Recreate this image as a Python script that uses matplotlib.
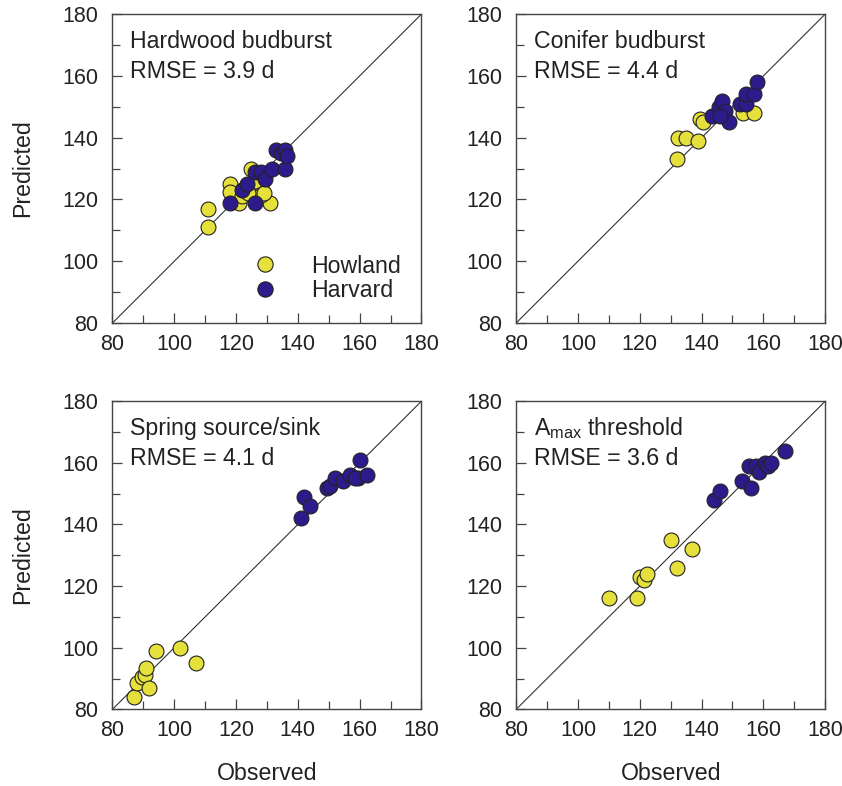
import matplotlib
matplotlib.use("Agg")
import matplotlib.pyplot as plt
from matplotlib.ticker import MultipleLocator
from matplotlib.lines import Line2D

plt.rcParams['font.family'] = ['Liberation Sans', 'DejaVu Sans']
plt.rcParams['mathtext.fontset'] = 'custom'
plt.rcParams['mathtext.rm'] = 'Liberation Sans'
plt.rcParams['mathtext.it'] = 'Liberation Sans:italic'

# Hardwood budburst
hw_how_obs = [111, 111, 118, 118, 125, 131, 121, 122, 127, 128, 128, 126, 124, 129]
hw_how_pred = [117, 111, 125, 122.5, 130, 119, 119, 121, 123, 124.5, 121.5, 126, 122, 122]
hw_har_obs = [118, 126, 122, 123.5, 126, 128, 129.5, 131.5, 136, 133, 134.5, 136, 136.5]
hw_har_pred = [119, 119, 123, 125, 129, 129, 126.5, 130, 130, 136, 135, 136, 134]

# Conifer budburst
cf_how_obs = [132, 132.5, 135, 139, 139.5, 140.5, 153.5, 157]
cf_how_pred = [133, 140, 140, 139, 146, 145, 148, 148]
cf_har_obs = [143.5, 145.5, 146.5, 147.5, 149, 146, 152.5, 154.5, 154.5, 157, 158]
cf_har_pred = [147, 150, 152, 148.5, 145, 147, 151, 151, 154, 154, 158]

# Spring source/sink
ss_how_obs = [87, 88, 89.5, 90.5, 91, 92, 94, 102, 107]
ss_how_pred = [84, 88.5, 90.5, 91, 93.5, 87, 99, 100, 95]
ss_har_obs = [141, 142, 144, 149.5, 150.5, 152, 154.5, 157, 159.5, 158.5, 160, 162.5]
ss_har_pred = [142, 149, 146, 152, 152.5, 155, 154, 156, 155, 155, 161, 156]

# Amax threshold
am_how_obs = [110, 119, 120, 121.5, 122.5, 130, 132, 137]
am_how_pred = [116, 116, 123, 122, 124, 135, 126, 132]
am_har_obs = [144, 146, 153, 156, 155.5, 157.5, 158.5, 160.5, 161.5, 162.5, 167]
am_har_pred = [148, 151, 154, 152, 159, 159, 157, 160, 159, 160, 164]

titles = ["Hardwood budburst", "Conifer budburst", "Spring source/sink",
          r"A$_{\mathrm{max}}$ threshold"]
rmse = ["3.9", "4.4", "4.1", "3.6"]

howland_color = '#e5e03c'
harvard_color = '#2d1b8c'

panels = [
    (hw_how_obs, hw_how_pred, hw_har_obs, hw_har_pred),
    (cf_how_obs, cf_how_pred, cf_har_obs, cf_har_pred),
    (ss_how_obs, ss_how_pred, ss_har_obs, ss_har_pred),
    (am_how_obs, am_how_pred, am_har_obs, am_har_pred),
]

fig = plt.figure(figsize=(8.42, 7.86), dpi=100)
positions = [
    [0.1335, 0.589, 0.367, 0.393],
    [0.613, 0.589, 0.367, 0.393],
    [0.1335, 0.0975, 0.367, 0.392],
    [0.613, 0.0975, 0.367, 0.392],
]

for i, (pos, data) in enumerate(zip(positions, panels)):
    ax = fig.add_axes(pos)
    ho, hp, vo, vp = data
    ax.plot([80, 180], [80, 180], color='#333333', lw=0.8, zorder=1)
    ax.scatter(ho, hp, s=115, c=howland_color, edgecolors='#222222',
               linewidths=0.8, zorder=3)
    ax.scatter(vo, vp, s=115, c=harvard_color, edgecolors='#222222',
               linewidths=0.8, zorder=3)
    ax.set_xlim(80, 180)
    ax.set_ylim(80, 180)
    ax.xaxis.set_major_locator(MultipleLocator(20))
    ax.yaxis.set_major_locator(MultipleLocator(20))
    ax.xaxis.set_minor_locator(MultipleLocator(10))
    ax.yaxis.set_minor_locator(MultipleLocator(10))
    ax.tick_params(which='both', direction='in', top=False, right=False,
                   labelsize=15.5, color='#444444', labelcolor='#222222')
    ax.tick_params(which='major', length=7, width=0.9)
    ax.tick_params(which='minor', length=6, width=0.9)
    ax.tick_params(axis='y', which='major', pad=10)
    ax.tick_params(axis='x', which='major', pad=8)
    for sp in ax.spines.values():
        sp.set_color('#444444')
        sp.set_linewidth(1.0)
    ax.text(0.058, 0.913, titles[i], transform=ax.transAxes, fontsize=16.7,
            va='center', ha='left', color='#222222')
    ax.text(0.058, 0.815, "RMSE = " + rmse[i] + " d", transform=ax.transAxes,
            fontsize=16.7, va='center', ha='left', color='#222222')
    if i % 2 == 0:
        ax.set_ylabel("Predicted", fontsize=16.7, labelpad=20, color='#222222')
    if i >= 2:
        ax.set_xlabel("Observed", fontsize=16.7, labelpad=15, color='#222222')
    if i == 0:
        handles = [
            Line2D([], [], marker='o', ls='', markersize=11,
                   markerfacecolor=howland_color, markeredgecolor='#222222',
                   markeredgewidth=0.8, label='Howland'),
            Line2D([], [], marker='o', ls='', markersize=11,
                   markerfacecolor=harvard_color, markeredgecolor='#222222',
                   markeredgewidth=0.8, label='Harvard'),
        ]
        leg = ax.legend(handles=handles, loc='center left',
                        bbox_to_anchor=(0.418, 0.1455), frameon=False,
                        fontsize=16.7, handlelength=2.0, handletextpad=0.98,
                        labelspacing=0.05, borderaxespad=0, borderpad=0)
        for t in leg.get_texts():
            t.set_color('#222222')

fig.savefig("out.png", dpi=100)
